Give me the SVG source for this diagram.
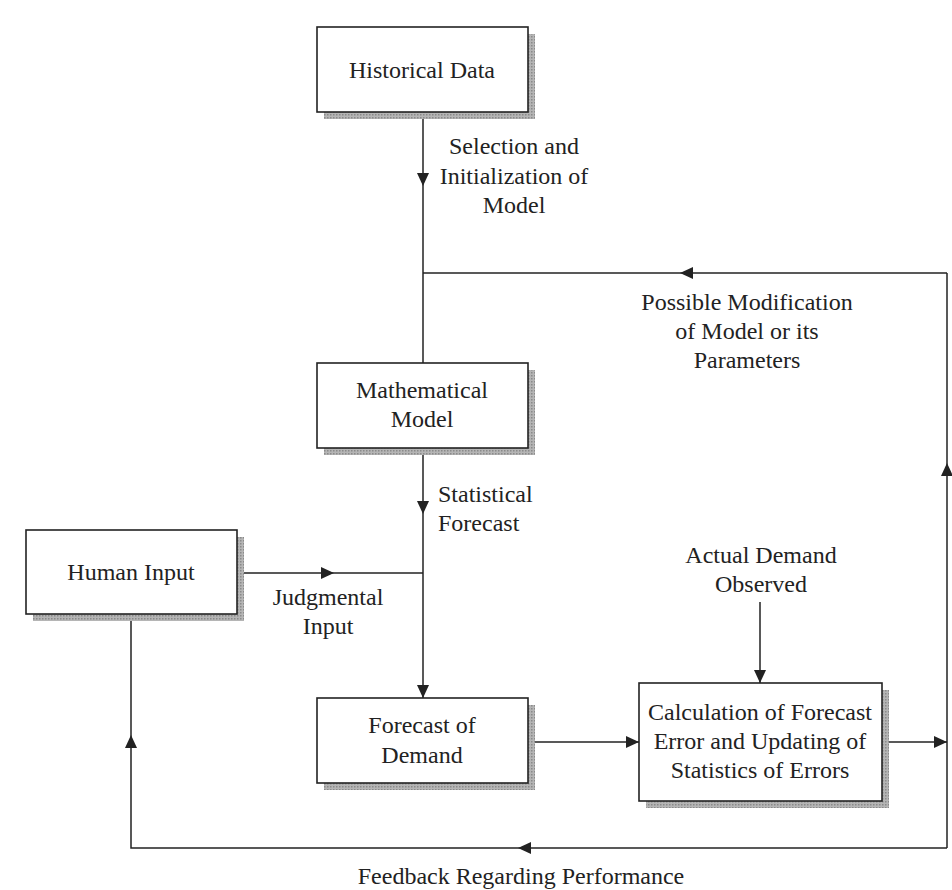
<svg xmlns="http://www.w3.org/2000/svg" width="952" height="890" viewBox="0 0 952 890">
  <defs>
    <marker id="arr" markerUnits="userSpaceOnUse" markerWidth="14" markerHeight="12" refX="13" refY="6" orient="auto">
      <path d="M0,0 L13,6 L0,12 Z" fill="#222"/>
    </marker>
    <pattern id="dots" width="3" height="3" patternUnits="userSpaceOnUse">
      <rect width="3" height="3" fill="#b5b5b5"/>
      <rect width="1.5" height="1.5" fill="#8a8a8a"/>
    </pattern>
  </defs>
  <style>
    .box { fill: #fff; stroke: #222; stroke-width: 1.6; }
    .shadow { fill: url(#dots); }
    .ln { fill: none; stroke: #222; stroke-width: 1.5; }
    text { font-family: "Liberation Serif", "Times New Roman", serif; font-size: 24px; fill: #222; }
    .c { text-anchor: middle; }
  </style>
  <rect width="952" height="890" fill="#fff"/>

  <g id="connectors">
    <path class="ln" d="M423 112 V186" marker-end="url(#arr)"/>
    <path class="ln" d="M423 186 V363"/>
    <path class="ln" d="M947 273 H680" marker-end="url(#arr)"/>
    <path class="ln" d="M680 273 H423"/>
    <path class="ln" d="M947 848 V463" marker-end="url(#arr)"/>
    <path class="ln" d="M947 463 V273"/>
    <path class="ln" d="M423 448 V514" marker-end="url(#arr)"/>
    <path class="ln" d="M423 514 V698" marker-end="url(#arr)"/>
    <path class="ln" d="M237 573 H334" marker-end="url(#arr)"/>
    <path class="ln" d="M334 573 H423"/>
    <path class="ln" d="M760 602 V683" marker-end="url(#arr)"/>
    <path class="ln" d="M528 742 H639" marker-end="url(#arr)"/>
    <path class="ln" d="M882 742 H947" marker-end="url(#arr)"/>
    <path class="ln" d="M947 848 H518" marker-end="url(#arr)"/>
    <path class="ln" d="M518 848 H131 V735" marker-end="url(#arr)"/>
    <path class="ln" d="M131 735 V614"/>
  </g>

  <g id="historical-data">
    <rect class="shadow" x="324" y="34" width="211" height="85"/>
    <rect class="box" x="317" y="27" width="211" height="85"/>
    <text class="c" x="422" y="78">Historical Data</text>
  </g>

  <g id="mathematical-model">
    <rect class="shadow" x="324" y="370" width="211" height="85"/>
    <rect class="box" x="317" y="363" width="211" height="85"/>
    <text class="c" x="422" y="398">Mathematical</text>
    <text class="c" x="422" y="427">Model</text>
  </g>

  <g id="human-input">
    <rect class="shadow" x="33" y="537" width="211" height="84"/>
    <rect class="box" x="26" y="530" width="211" height="84"/>
    <text class="c" x="131" y="580">Human Input</text>
  </g>

  <g id="forecast-of-demand">
    <rect class="shadow" x="324" y="705" width="211" height="85"/>
    <rect class="box" x="317" y="698" width="211" height="85"/>
    <text class="c" x="422" y="733">Forecast of</text>
    <text class="c" x="422" y="763">Demand</text>
  </g>

  <g id="calculation">
    <rect class="shadow" x="646" y="690" width="243" height="118"/>
    <rect class="box" x="639" y="683" width="243" height="118"/>
    <text class="c" x="760" y="720">Calculation of Forecast</text>
    <text class="c" x="760" y="749">Error and Updating of</text>
    <text class="c" x="760" y="778">Statistics of Errors</text>
  </g>

  <g id="labels">
    <text class="c" x="514" y="154">Selection and</text>
    <text class="c" x="514" y="184">Initialization of</text>
    <text class="c" x="514" y="213">Model</text>
    <text class="c" x="747" y="310">Possible Modification</text>
    <text class="c" x="747" y="339">of Model or its</text>
    <text class="c" x="747" y="368">Parameters</text>
    <text x="438" y="502">Statistical</text>
    <text x="438" y="531">Forecast</text>
    <text class="c" x="328" y="605">Judgmental</text>
    <text class="c" x="328" y="634">Input</text>
    <text class="c" x="761" y="563">Actual Demand</text>
    <text class="c" x="761" y="592">Observed</text>
    <text class="c" x="521" y="884">Feedback Regarding Performance</text>
  </g>
</svg>
